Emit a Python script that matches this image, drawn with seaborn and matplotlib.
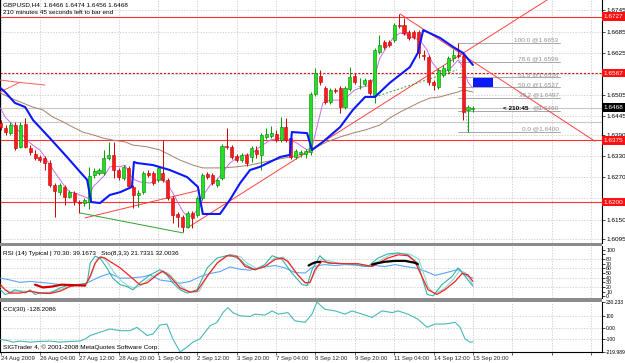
import numpy as np
import matplotlib
matplotlib.use("Agg")
import matplotlib.pyplot as plt
import seaborn as sns
from matplotlib.patches import Rectangle

# GBPUSD H4 bars, bar 0 = 24 Aug 2009 20:00, bar 96 = 15 Sep 20:00
opens = [1.6425, 1.6410, 1.6396, 1.6419, 1.6356, 1.6422, 1.6354, 1.6337, 1.6328, 1.6325,
         1.6311, 1.6248, 1.6228, 1.6243, 1.6214, 1.6226, 1.6200, 1.6197, 1.6200, 1.6277,
         1.6283, 1.6283, 1.6325, 1.6334, 1.6291, 1.6268, 1.6297, 1.6243, 1.6220, 1.6228,
         1.6283, 1.6283, 1.6263, 1.6283, 1.6263, 1.6211, 1.6166, 1.6157, 1.6129, 1.6169,
         1.6163, 1.6211, 1.6280, 1.6277, 1.6248, 1.6268, 1.6359, 1.6356, 1.6331, 1.6319,
         1.6334, 1.6328, 1.6348, 1.6334, 1.6385, 1.6388, 1.6394, 1.6376, 1.6413, 1.6382,
         1.6328, 1.6337, 1.6337, 1.6342, 1.6507, 1.6558, 1.6524, 1.6484, 1.6519, 1.6524,
         1.6470, 1.6522, 1.6558, 1.6530, 1.6536, 1.6547, 1.6504, 1.6627, 1.6655, 1.6655,
         1.6661, 1.6704, 1.6704, 1.6684, 1.6684, 1.6684, 1.6618, 1.6613, 1.6541, 1.6527,
         1.6561, 1.6576, 1.6610, 1.6618, 1.6615, 1.6462, 1.6466]
highs = [1.6433, 1.6419, 1.6427, 1.6427, 1.6427, 1.6439, 1.6362, 1.6348, 1.6334, 1.6331,
         1.6319, 1.6254, 1.6254, 1.6248, 1.6234, 1.6231, 1.6206, 1.6211, 1.6300, 1.6297,
         1.6297, 1.6348, 1.6371, 1.6371, 1.6297, 1.6305, 1.6302, 1.6248, 1.6234, 1.6288,
         1.6291, 1.6288, 1.6302, 1.6376, 1.6268, 1.6217, 1.6172, 1.6163, 1.6174, 1.6174,
         1.6217, 1.6283, 1.6285, 1.6283, 1.6268, 1.6365, 1.6410, 1.6362, 1.6337, 1.6339,
         1.6339, 1.6359, 1.6359, 1.6396, 1.6410, 1.6416, 1.6405, 1.6442, 1.6439, 1.6388,
         1.6351, 1.6348, 1.6351, 1.6513, 1.6581, 1.6576, 1.6530, 1.6524, 1.6524, 1.6530,
         1.6530, 1.6584, 1.6567, 1.6553, 1.6553, 1.6550, 1.6638, 1.6675, 1.6661, 1.6661,
         1.6709, 1.6735, 1.6724, 1.6689, 1.6689, 1.6689, 1.6632, 1.6618, 1.6547, 1.6581,
         1.6590, 1.6615, 1.6635, 1.6653, 1.6624, 1.6476, 1.6474]
lows = [1.6405, 1.6391, 1.6391, 1.6348, 1.6354, 1.6354, 1.6334, 1.6319, 1.6314, 1.6291,
        1.6243, 1.6157, 1.6220, 1.6191, 1.6211, 1.6191, 1.6169, 1.6189, 1.6180, 1.6268,
        1.6277, 1.6277, 1.6319, 1.6268, 1.6263, 1.6263, 1.6240, 1.6183, 1.6186, 1.6223,
        1.6271, 1.6248, 1.6257, 1.6257, 1.6206, 1.6140, 1.6129, 1.6115, 1.6126, 1.6126,
        1.6157, 1.6206, 1.6265, 1.6248, 1.6243, 1.6263, 1.6351, 1.6322, 1.6314, 1.6314,
        1.6302, 1.6314, 1.6325, 1.6291, 1.6379, 1.6382, 1.6371, 1.6371, 1.6371, 1.6322,
        1.6322, 1.6328, 1.6325, 1.6334, 1.6501, 1.6533, 1.6479, 1.6479, 1.6510, 1.6453,
        1.6465, 1.6516, 1.6536, 1.6522, 1.6530, 1.6504, 1.6482, 1.6621, 1.6635, 1.6641,
        1.6655, 1.6695, 1.6675, 1.6661, 1.6664, 1.6610, 1.6604, 1.6533, 1.6519, 1.6522,
        1.6556, 1.6570, 1.6598, 1.6610, 1.6433, 1.6400, 1.6456]
closes = [1.6413, 1.6399, 1.6419, 1.6354, 1.6419, 1.6356, 1.6342, 1.6325, 1.6319, 1.6311,
          1.6248, 1.6231, 1.6248, 1.6214, 1.6228, 1.6203, 1.6197, 1.6206, 1.6274, 1.6288,
          1.6291, 1.6325, 1.6334, 1.6291, 1.6271, 1.6300, 1.6245, 1.6220, 1.6226, 1.6283,
          1.6277, 1.6254, 1.6297, 1.6263, 1.6211, 1.6163, 1.6157, 1.6129, 1.6169, 1.6155,
          1.6211, 1.6277, 1.6271, 1.6254, 1.6263, 1.6359, 1.6356, 1.6328, 1.6319, 1.6334,
          1.6311, 1.6354, 1.6337, 1.6391, 1.6394, 1.6396, 1.6376, 1.6413, 1.6376, 1.6328,
          1.6345, 1.6342, 1.6345, 1.6507, 1.6567, 1.6541, 1.6484, 1.6519, 1.6516, 1.6470,
          1.6524, 1.6556, 1.6541, 1.6531, 1.6547, 1.6510, 1.6632, 1.6647, 1.6641, 1.6647,
          1.6704, 1.6701, 1.6681, 1.6667, 1.6669, 1.6624, 1.6615, 1.6541, 1.6533, 1.6576,
          1.6581, 1.6610, 1.6618, 1.6615, 1.6456, 1.6470, 1.6468]

# moving-average style lines on the price chart (bar position, price)
blue_x = [0, 0.9, 2.9, 5.0, 6.6, 10.0, 13.5, 16.7, 17.6, 18.4, 20.2, 22.2, 24.3, 26.7, 27.1,
          27.7, 31.0, 34.4, 37.9, 40.1, 41.1, 44.6, 46.6, 48.7, 50.7, 52.7, 56.8, 58.8, 59.2,
          62.3, 63.3, 65.5, 69.0, 71.6, 74.1, 76.1, 79.1, 83.2, 84.8, 85.9, 86.7, 89.3, 92.0,
          94.0, 96.0]
blue_y = [1.6524, 1.6513, 1.6482, 1.6470, 1.6433, 1.6382, 1.6328, 1.6277, 1.6263, 1.6200,
          1.6197, 1.6220, 1.6228, 1.6243, 1.6314, 1.6311, 1.6305, 1.6291, 1.6271, 1.6243,
          1.6166, 1.6166, 1.6206, 1.6254, 1.6291, 1.6300, 1.6328, 1.6334, 1.6399, 1.6396,
          1.6348, 1.6371, 1.6413, 1.6462, 1.6499, 1.6499, 1.6539, 1.6584, 1.6624, 1.6689,
          1.6684, 1.6667, 1.6641, 1.6624, 1.6590]
vio_x = [0, 0.9, 1.9, 2.9, 3.9, 5.0, 6.0, 7.0, 8.0, 9.0, 10.0, 11.1, 12.1, 13.1, 14.1, 15.1,
         16.1, 17.2, 17.8, 18.8, 20.2, 21.2, 22.2, 23.3, 24.3, 25.3, 26.3, 27.3, 28.3, 30.4,
         32.4, 33.8, 35.0, 36.1, 37.1, 38.1, 39.1, 40.5, 41.5, 42.6, 44.0, 45.2, 46.6, 48.0,
         49.7, 50.7, 52.7, 54.8, 56.8, 58.8, 60.2, 62.3, 63.3, 64.3, 65.5, 67.0, 69.0, 70.4,
         72.0, 74.1, 75.1, 76.1, 77.1, 78.5, 79.8, 81.2, 82.6, 83.8, 85.2, 86.7, 87.7, 88.9,
         90.3, 91.7, 93.0, 94.0, 95.0, 96.0]
vio_y = [1.6467, 1.6442, 1.6428, 1.6413, 1.6399, 1.6382, 1.6368, 1.6357, 1.6348, 1.6328,
         1.6305, 1.6283, 1.6263, 1.6243, 1.6228, 1.6226, 1.6220, 1.6214, 1.6211, 1.6243,
         1.6263, 1.6277, 1.6300, 1.6302, 1.6300, 1.6305, 1.6277, 1.6263, 1.6257, 1.6254,
         1.6268, 1.6254, 1.6226, 1.6197, 1.6172, 1.6157, 1.6163, 1.6186, 1.6226, 1.6248,
         1.6263, 1.6285, 1.6311, 1.6325, 1.6334, 1.6334, 1.6357, 1.6376, 1.6382, 1.6376,
         1.6368, 1.6348, 1.6357, 1.6413, 1.6482, 1.6490, 1.6490, 1.6499, 1.6519, 1.6530,
         1.6530, 1.6561, 1.6610, 1.6641, 1.6667, 1.6681, 1.6675, 1.6667, 1.6661, 1.6632,
         1.6598, 1.6576, 1.6570, 1.6584, 1.6604, 1.6584, 1.6541, 1.6524]
brown_x = [0, 2.0, 3.9, 6.6, 8.6, 10.6, 12.7, 14.7, 16.7, 18.8, 20.8, 22.8, 25.3, 26.9, 29.8,
           32.4, 34.4, 36.5, 39.1, 41.1, 44.6, 48.0, 50.7, 52.7, 55.4, 58.8, 62.3, 64.3, 66.3,
           69.0, 71.6, 74.1, 77.1, 79.1, 81.2, 83.2, 85.2, 87.3, 89.3, 91.3, 93.0, 94.0, 96.0]
brown_y = [1.6510, 1.6496, 1.6485, 1.6470, 1.6462, 1.6442, 1.6428, 1.6413, 1.6399, 1.6391,
           1.6382, 1.6376, 1.6371, 1.6362, 1.6357, 1.6348, 1.6334, 1.6319, 1.6305, 1.6297,
           1.6297, 1.6300, 1.6305, 1.6311, 1.6319, 1.6328, 1.6339, 1.6357, 1.6371, 1.6385,
           1.6396, 1.6405, 1.6419, 1.6439, 1.6456, 1.6470, 1.6484, 1.6496, 1.6499, 1.6507,
           1.6513, 1.6519, 1.6513]

# drawn objects
red_up_x, red_up_y = [37.9, 111.1], [1.6126, 1.6775]
red_down_x, red_down_y = [81.2, 120.8], [1.6735, 1.6373]
red_low_x, red_low_y = [17.2, 40.5], [1.6155, 1.6234]
green_low_x, green_low_y = [16.1, 37.1], [1.6169, 1.6112]
green_dash_x, green_dash_y = [76.1, 92.8], [1.6499, 1.6576]
red_tl1_x, red_tl1_y = [-0.1, 4.6, 9.0], [1.6547, 1.6539, 1.6533]
red_tl2_x, red_tl2_y = [-0.1, 4.0], [1.6513, 1.6541]
hline_red = [1.6727, 1.6375, 1.6200]
hline_dash = 1.6567
hline_gray = [1.6468, 1.6428]
fib_names = ["100.0", "78.6", "61.8", "50.0", "38.2", "23.6", "0.0"]
fib_prices = [1.6653, 1.6599, 1.6556, 1.6527, 1.6497, 1.6460, 1.6400]
fib_start, fib_end = 93.0, 113.7
box_x, box_y = [96.0, 100.1], [1.6527, 1.6553]

price_ticks = [1.6745, 1.6685, 1.6625, 1.6565, 1.6505, 1.6445, 1.6390, 1.6330, 1.6270,
               1.6210, 1.6150, 1.6095]
price_tick_labels = ["1.6745", "1.6685", "1.6625", "", "1.6505", "1.6445", "1.6390", "1.6330",
                     "1.6270", "", "1.6150", "1.6095"]
price_marks = [("1.6727", 1.6727, "#ff1010"), ("1.6567", 1.6567, "#ff1010"),
               ("1.6468", 1.6468, "#000000"), ("1.6375", 1.6375, "#ff1010"),
               ("1.6200", 1.6200, "#ff1010")]

# RSI / stochastic window
rsi_x = [0, 1.9, 3.9, 6.0, 8.0, 10.0, 12.1, 14.1, 16.8, 18.8, 20.2, 22.2, 24.3, 26.3, 29.0,
         30.4, 32.4, 34.4, 36.5, 38.5, 40.5, 42.6, 44.6, 46.6, 48.7, 50.7, 51.7, 53.7, 55.8,
         57.8, 59.8, 61.9, 63.3, 64.5, 65.9, 68.0, 70.0, 72.0, 74.1, 76.1, 78.1, 80.2, 82.2,
         84.2, 86.3, 88.3, 90.3, 92.4, 93.4, 94.8, 96.0]
rsi_v = [39, 35, 30, 32, 30, 28, 25, 25, 25, 35, 42, 49, 39, 39, 42, 46, 35, 32, 28, 32, 42,
         49, 53, 63, 58, 56, 59, 63, 66, 61, 51, 50, 62, 66, 68, 66, 68, 67, 64, 66, 64, 68,
         64, 61, 54, 45, 50, 56, 57, 43, 39.1673]
sd_x = [0, 0.9, 1.9, 3.9, 6.0, 8.0, 10.0, 12.1, 14.1, 16.1, 17.2, 18.2, 19.2, 20.2, 21.2,
        22.2, 24.3, 26.3, 28.3, 29.8, 31.8, 33.0, 34.4, 36.5, 38.5, 39.9, 42.0, 44.0, 46.0,
        48.0, 49.7, 51.7, 53.7, 55.8, 57.2, 58.4, 60.4, 61.9, 62.9, 63.9, 65.3, 67.4, 70.0,
        72.6, 75.5, 76.7, 78.7, 80.8, 82.8, 84.2, 85.6, 86.9, 88.7, 90.3, 92.4, 93.8, 95.0, 96.0]
sd_v = [25, 14, 7, 7, 11, 7, 6, 11, 21, 25, 23, 43, 71, 84, 82, 75, 61, 43, 25, 29, 46, 54,
        43, 18, 9, 11, 43, 71, 87, 86, 64, 57, 64, 79, 82, 75, 46, 29, 30, 57, 75, 71, 70,
        70, 64, 71, 82, 89, 87, 75, 43, 14, 4, 14, 32, 49, 46, 32.0036]
sk_x = [0, 0.9, 1.9, 2.9, 3.9, 5.0, 6.0, 7.0, 8.0, 10.0, 12.1, 14.1, 16.1, 17.6, 18.2, 19.2,
        20.2, 21.6, 22.8, 24.3, 25.7, 26.9, 28.3, 30.4, 32.4, 33.8, 35.0, 36.5, 37.9, 39.9,
        42.0, 44.0, 46.6, 48.7, 49.7, 51.7, 53.7, 55.2, 57.2, 59.2, 61.3, 62.3, 63.3, 64.9,
        66.5, 69.4, 72.0, 74.7, 76.7, 78.7, 80.8, 82.8, 84.8, 86.7, 87.9, 89.7, 91.8, 93.0,
        94.4, 96.0]
sk_v = [14, 4, 7, 14, 11, 7, 14, 4, 7, 7, 18, 25, 25, 29, 71, 86, 82, 61, 39, 25, 21, 14, 29,
        46, 57, 46, 29, 14, 7, 14, 61, 82, 89, 79, 68, 57, 68, 87, 79, 50, 25, 23, 57, 87, 71,
        70, 68, 64, 82, 91, 93, 89, 71, 4, 1, 25, 43, 61, 43, 21.7331]
tb_x = [0, 1.9, 3.9, 6.0, 8.0, 10.0, 12.1, 14.1, 16.1, 17.6, 18.6, 19.6, 20.6, 21.8, 23.0,
        24.5, 26.0, 27.3, 28.7, 30.6, 32.6, 34.0, 35.4, 36.9, 38.3, 40.3, 42.3, 44.4, 46.8,
        48.9, 50.0, 52.0, 54.0, 55.6, 57.5, 59.5, 61.5, 62.6, 63.6, 65.2, 66.8, 69.6, 72.3,
        75.0, 77.0, 79.0, 81.0, 83.0, 85.0, 86.9, 88.2, 90.0, 92.0, 93.3, 94.6, 96.0]
tb_v = [20, 10, 12, 10, 8, 9, 14, 22, 26, 27, 50, 80, 86, 72, 52, 33, 22, 18, 24, 40, 54, 50,
        35, 20, 10, 10, 48, 76, 90, 84, 72, 60, 64, 82, 84, 58, 32, 24, 45, 80, 76, 69, 68,
        66, 76, 88, 92, 91, 80, 20, 5, 15, 36, 55, 50, 25]
low_zone_x, low_zone_v = [7.0, 8.6, 10.5, 12.4, 14.5, 17.2], [25, 19, 21, 25, 24, 23]
high_zone1_x, high_zone1_v = [62.6, 63.3, 64.0, 64.9], [66, 70, 73, 74]
high_zone2_x, high_zone2_v = [75.5, 76.1, 78.1, 80.2, 82.2, 84.2, 84.8], [68, 70, 74, 76, 76, 72, 69]

# CCI(30)
cci_x = [0, 1.3, 2.5, 3.9, 6.0, 8.0, 10.0, 12.1, 14.1, 16.1, 17.2, 18.2, 20.2, 22.2, 24.3,
         26.3, 27.7, 29.8, 31.0, 32.4, 33.8, 35.0, 36.5, 37.9, 39.1, 40.5, 42.6, 44.0, 45.2,
         46.2, 47.2, 48.7, 50.7, 51.7, 53.7, 55.2, 56.4, 58.4, 59.8, 61.9, 63.3, 64.3, 65.9,
         68.0, 70.0, 71.4, 73.5, 75.5, 77.5, 79.6, 80.8, 82.8, 84.8, 86.7, 88.3, 90.3, 92.4,
         93.4, 94.4, 95.4, 96.0]
cci_v = [-107, -116, -131, -122, -131, -125, -122, -131, -125, -122, -102, -72, -42, -13, -28,
         -28, 2, -72, -57, 23, 32, -102, -219.989, -175, -131, -102, 17, 47, 135, 180, 135,
         106, 100, 121, 112, 150, 121, 135, 61, 47, 121, 230.233, 165, 150, 121, 150, 121,
         91, 150, 135, 150, 121, 76, 2, 32, 32, 47, 2, -102, -131, -128.2086]

date_ticks = [0, 8, 16, 24, 32, 40, 48, 56, 64, 72, 80, 88, 96, 104, 112, 120]
date_labels = ["24 Aug 2009", "26 Aug 04:00", "27 Aug 12:00", "28 Aug 20:00", "1 Sep 04:00",
               "2 Sep 12:00", "3 Sep 20:00", "7 Sep 04:00", "8 Sep 12:00", "9 Sep 20:00",
               "11 Sep 04:00", "14 Sep 12:00", "15 Sep 20:00", "", "", ""]

sns.set_theme(style="white")
plt.rcParams['font.family'] = ['Liberation Sans', 'DejaVu Sans']
FS = 4.6
GRID = dict(color="#c4c4c4", linestyle=(0, (2, 2)), linewidth=0.5)

W, H = 625, 363
fig = plt.figure(figsize=(W / 100, H / 100), dpi=100)
fig.patch.set_facecolor("white")


def box(x0, y0, x1, y1):
    return [x0 / W, 1 - y1 / H, (x1 - x0) / W, (y1 - y0) / H]


def line(ax, xs, ys, color, lw, ls="-", z=3):
    sns.lineplot(x=xs, y=ys, ax=ax, color=color, linewidth=lw, linestyle=ls,
                 sort=False, estimator=None, legend=False, zorder=z)


XLIM = (-0.12, 122.24)
ax = fig.add_axes(box(0, 0, 602, 243))
ax1 = fig.add_axes(box(0, 246, 602, 298))
ax2 = fig.add_axes(box(0, 302, 602, 352))

for a in (ax, ax1, ax2):
    a.set_xlim(*XLIM)
    a.set_xticks(date_ticks)
    a.grid(True, **GRID)
    a.set_axisbelow(True)
    a.yaxis.tick_right()
    a.tick_params(axis="y", labelsize=FS, length=2, width=0.5, pad=1, colors="black",
                  right=True, left=False)
    a.tick_params(axis="x", length=0, labelbottom=False)
    for s in a.spines.values():
        s.set_color("black")
        s.set_linewidth(0.8)
    a.spines["top"].set_visible(False)
    a.spines["bottom"].set_visible(False)

# ---- price window ----
ax.set_ylim(1.60834, 1.67747)
ax.set_yticks(price_ticks)
ax.set_yticklabels(price_tick_labels)

for p in hline_red:
    ax.axhline(p, color="#ff3030", lw=0.8, zorder=2)
ax.axhline(hline_dash, color="#d01010", lw=0.8, ls=(0, (2, 1.5)), zorder=2)
for p in hline_gray:
    ax.axhline(p, color="#c8c8c8", lw=0.8, zorder=1)

line(ax, brown_x, brown_y, "#a88068", 0.7)
line(ax, vio_x, vio_y, "#c86ee8", 0.7)
line(ax, red_tl1_x, red_tl1_y, "#ff6060", 0.7)
line(ax, red_tl2_x, red_tl2_y, "#ff6060", 0.7)
line(ax, red_up_x, red_up_y, "#ff4040", 0.7)
line(ax, red_down_x, red_down_y, "#ff4040", 0.7)
line(ax, red_low_x, red_low_y, "#ff4040", 0.7)
line(ax, green_low_x, green_low_y, "#30a030", 0.7)
line(ax, green_dash_x, green_dash_y, "#30a030", 0.7, ls=(0, (2, 2)))

# fibonacci retracement
for name, p in zip(fib_names, fib_prices):
    ax.plot([fib_start, fib_end], [p, p], color="#a8a8a8", lw=0.7, zorder=2)
    if name != "23.6":
        ax.text(fib_end - 0.3, p, f"{name} @{p:.4f}", ha="right", va="bottom",
                fontsize=FS, color="#909090", zorder=4)
ax.plot([fib_start, fib_start + 2], [fib_prices[0], fib_prices[-1]], color="#a8a8a8",
        lw=0.6, ls=(0, (2, 2)), zorder=2)
ax.text(fib_end - 0.3, fib_prices[5], f"@{fib_prices[5]:.4f}", ha="right", va="bottom",
        fontsize=FS, color="#909090", zorder=4)
ax.text(fib_end - 11.5, fib_prices[5], "< 210:45", ha="left", va="bottom", fontsize=FS,
        color="black", fontweight="bold", zorder=5)

ax.add_patch(Rectangle((box_x[0], box_y[0]), box_x[1] - box_x[0], box_y[1] - box_y[0],
                       facecolor="#0a1aff", edgecolor="none", zorder=3))

# candles
o, hi, lo, c = map(np.array, (opens, highs, lows, closes))
idx = np.arange(len(o))
up = c >= o
ax.vlines(idx[up], lo[up], hi[up], color="#00a000", lw=0.7, zorder=4)
ax.vlines(idx[~up], lo[~up], hi[~up], color="#d00000", lw=0.7, zorder=4)
body = np.maximum(np.abs(c - o), 0.00008)
ax.bar(idx[up], body[up], bottom=np.minimum(o, c)[up], width=0.62, color="#22e022",
       edgecolor="#008000", linewidth=0.4, zorder=5)
ax.bar(idx[~up], body[~up], bottom=np.minimum(o, c)[~up], width=0.62, color="#ff1a1a",
       edgecolor="#c00000", linewidth=0.4, zorder=5)

line(ax, blue_x, blue_y, "#0a18ff", 1.5, z=6)

for lab, p, bg in price_marks:
    ax.text(1.003, p, lab, transform=ax.get_yaxis_transform(), ha="left", va="center",
            fontsize=FS, color="white", clip_on=False, zorder=10,
            bbox=dict(boxstyle="square,pad=0.3", fc=bg, ec="none"))

ax.text(0.005, 0.992, "GBPUSD,H4  1.6466 1.6474 1.6456 1.6468", transform=ax.transAxes,
        ha="left", va="top", fontsize=FS, color="black")
ax.text(0.005, 0.958, "210 minutes 45 seconds left to bar end", transform=ax.transAxes,
        ha="left", va="top", fontsize=FS, color="black")

# ---- RSI / Stochastic window ----
ax1.set_ylim(-3.6, 107.9)
ax1.set_yticks([100, 90, 80, 70, 60, 50, 40, 30, 20, 10, 0])
ax1.set_yticklabels(["100", "", "80", "70", "60", "50", "40", "30", "20", "10", "0"])
ax1.tick_params(axis="y", labelsize=3.8, pad=1)
ax1.grid(False)
for v in (20, 40, 60, 80):
    ax1.axhline(v, **GRID)
for b in date_ticks[1:]:
    ax1.axvline(b, **GRID)
line(ax1, rsi_x, rsi_v, "#5aa5ff", 0.8)
line(ax1, tb_x, tb_v, "#8fd8d0", 0.8)
line(ax1, sk_x, sk_v, "#38b0a8", 0.8)
line(ax1, sd_x, sd_v, "#ff2020", 0.9)
line(ax1, low_zone_x, low_zone_v, "#d00000", 1.6, z=5)
line(ax1, high_zone1_x, high_zone1_v, "#000000", 1.6, z=5)
line(ax1, high_zone2_x, high_zone2_v, "#000000", 1.6, z=5)
ax1.text(0.005, 0.9, "RSI (14) Typical | 70.30: 39.1673   Sto(8,3,3) 21.7331 32.0036",
         transform=ax1.transAxes, ha="left", va="top", fontsize=FS, color="black")

# ---- CCI window ----
ax2.set_ylim(-219.989, 230.233)
ax2.set_yticks([230.233, 100, 0, -100, -219.989])
ax2.set_yticklabels(["230.233", "100", "0.00", "-100", "-219.989"])
ax2.tick_params(axis="y", labelsize=3.6, pad=0.5)
ax2.spines["bottom"].set_visible(True)
ax2.grid(False)
for v in (100, 0, -100):
    ax2.axhline(v, **GRID)
for b in date_ticks[1:]:
    ax2.axvline(b, **GRID)
line(ax2, cci_x, cci_v, "#48b8b8", 0.8)
ax2.text(0.005, 0.9, "CCI(30) -128.2086", transform=ax2.transAxes, ha="left", va="top",
         fontsize=FS, color="black")
ax2.text(0.005, 0.04, "SIGTrader 4, \u00a9 2001-2008 MetaQuotes Software Corp.",
         transform=ax2.transAxes, ha="left", va="bottom", fontsize=FS, color="black")
ax2.tick_params(axis="x", length=2, width=0.5, labelbottom=True, labelsize=4.3, pad=1,
                bottom=True, direction="out")
ax2.set_xticklabels(date_labels, ha="left")

# window separators
for y0, y1 in ((243, 246), (298, 302)):
    fig.patches.append(Rectangle((0, 1 - y1 / H), 602 / W, (y1 - y0) / H,
                                 transform=fig.transFigure, fc="#8c8c8c", ec="none"))

fig.savefig("out.png", dpi=100, facecolor="white")
